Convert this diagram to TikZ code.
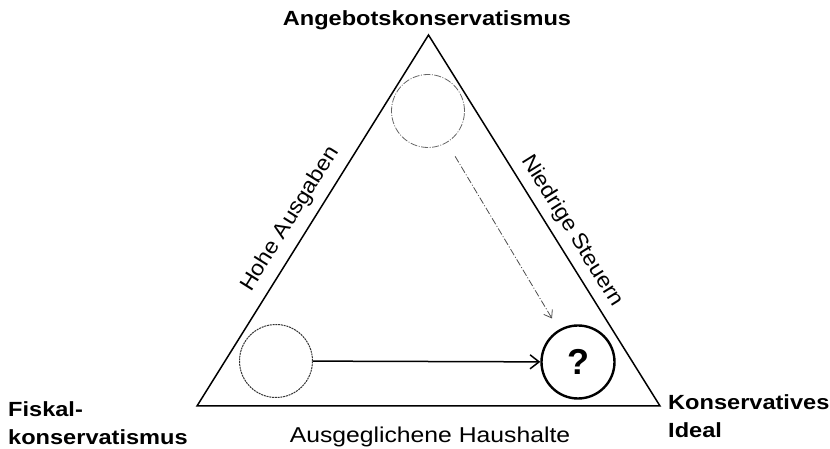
\documentclass[tikz,border=0pt]{standalone}
\usepackage{fontspec}
\setmainfont{Liberation Sans}
\usepackage{graphicx}
\usetikzlibrary{arrows.meta}
\newcommand{\hx}[1]{\scalebox{1.15}[1]{#1}}
\newcommand{\hr}[1]{\scalebox{1.08}[1]{#1}}
\begin{document}
\begin{tikzpicture}[x=1pt,y=1pt,
  edge/.style={line width=1.5pt, line join=miter},
  boldlbl/.style={font=\fontsize{20.5}{24}\selectfont\bfseries, inner sep=0pt},
  reglbl/.style={font=\fontsize{21.5}{24}\selectfont, inner sep=0pt},
  ring/.style={circle, inner sep=0pt, minimum size=73pt},
  link/.style={line width=1.5pt, -{Straight Barb[length=9pt,width=14pt]}}]
\useasboundingbox (0,0) rectangle (830,449);
% triangle
\coordinate (T) at (428.5,414);
\coordinate (L) at (197,43);
\coordinate (R) at (660,43);
\draw[edge] (L) -- (T) -- (R) -- cycle;
% corner labels
\node[boldlbl, anchor=base] (title) at (427,423) {\hx{Angebotskonservatismus}};
\node[boldlbl, anchor=base west] (fisk1) at (8,32) {\hx{Fiskal-}};
\node[boldlbl, anchor=base west] (fisk2) at (8,4) {\hx{konservatismus}};
\node[boldlbl, anchor=base west] (kons1) at (668,39) {\hx{Konservatives}};
\node[boldlbl, anchor=base west] (kons2) at (668,11) {\hx{Ideal}};
% side labels
\node[reglbl, anchor=base] (base) at (430,6) {\hx{Ausgeglichene Haushalte}};
\node[reglbl, rotate=58] (hohe) at (290.5,230) {\hr{Hohe Ausgaben}};
\node[reglbl, rotate=-58] (nied) at (572,218) {\hr{Niedrige Steuern}};
% circles
\node[ring, draw=gray!80!black, line width=0.8pt, dash pattern=on 7pt off 1.5pt on 1pt off 1.5pt] (c1) at (428,338) {};
\node[ring, draw=black!80, line width=1pt, dash pattern=on 2pt off 0.8pt] (c2) at (276,88) {};
\node[ring, draw=black, line width=2.4pt, font=\fontsize{36}{40}\selectfont\bfseries] (c3) at (578,87) {?};
% arrows
\draw[link] (c2) -- (c3);
\draw[gray!60!black, line width=0.8pt, dash pattern=on 7pt off 2pt on 1pt off 2pt,
      shorten <=16pt, shorten >=13pt, -{Straight Barb[length=7pt,width=10pt]}] (c1) -- (c3);
\end{tikzpicture}
\end{document}
